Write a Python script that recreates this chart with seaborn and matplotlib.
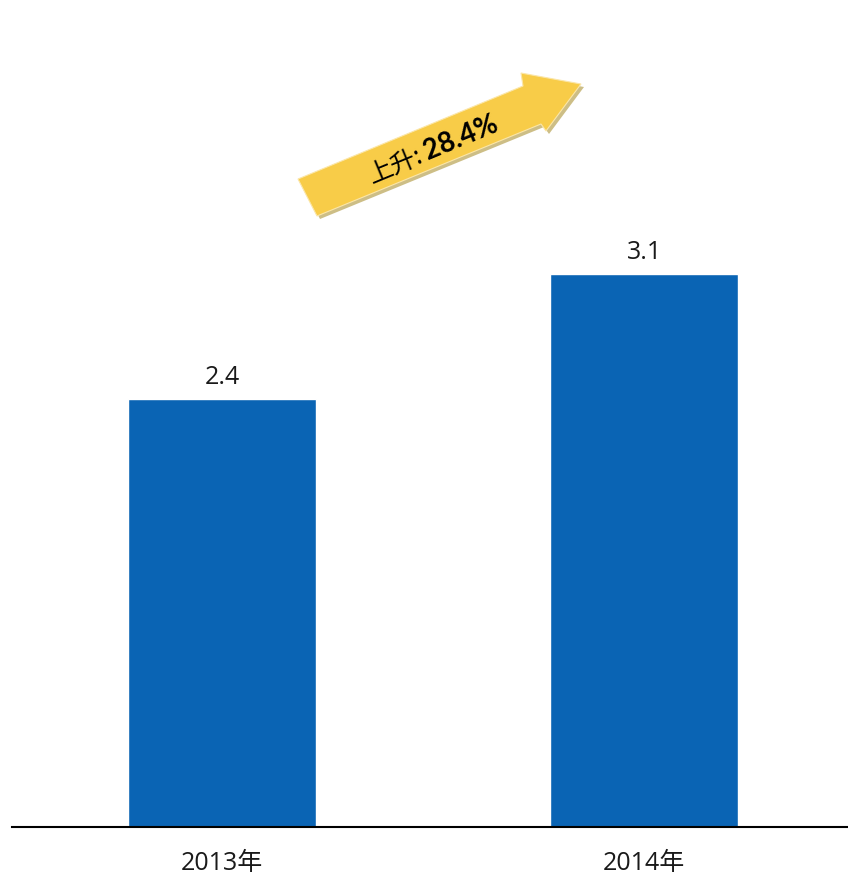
import matplotlib
matplotlib.use("Agg")
import matplotlib.pyplot as plt
from matplotlib.patches import Polygon
import seaborn as sns
import pandas as pd

# Data
years = ["2013年", "2014年"]
values = [2.4, 3.1]
growth_label = "28.4%"
growth_prefix = "上升:"

sns.set_style("white")
plt.rcParams["font.family"] = ["Open Sans", "Noto Sans CJK SC", "DejaVu Sans"]

W, H = 848, 875
fig = plt.figure(figsize=(W / 100, H / 100), dpi=100)
ax = fig.add_axes([12 / W, (H - 827) / H, (W - 12) / W, 827 / H])

df = pd.DataFrame({"year": years, "value": values})
sns.barplot(data=df, x="year", y="value", color="#0A64B4", saturation=1,
            width=0.445, ax=ax)

ax.set_xlim(-0.4976, 1.483)
ax.set_ylim(0, 4.64)
ax.set_xlabel("")
ax.set_ylabel("")
ax.set_yticks([])
for side in ("top", "right", "left"):
    ax.spines[side].set_visible(False)
ax.spines["bottom"].set_color("black")
ax.spines["bottom"].set_linewidth(1.5)
ax.tick_params(axis="x", length=0, pad=17, labelsize=18, labelcolor="#1a1a1a")

ax.bar_label(ax.containers[0], labels=[f"{v:.1f}" for v in values],
             padding=7, fontsize=18, color="#1a1a1a")


def px(x, y):
    return (x / W, 1 - y / H)


# Growth arrow (pixel geometry, converted to figure fraction)
arrow_pts = [(298, 179), (523, 86), (521, 73), (581, 84),
             (546, 131), (541, 124), (317, 216)]
shadow = Polygon([px(x + 3, y + 3) for x, y in arrow_pts], closed=True,
                 transform=fig.transFigure, facecolor="#CDBE86",
                 edgecolor="none", zorder=5)
body = Polygon([px(x, y) for x, y in arrow_pts], closed=True,
               transform=fig.transFigure, facecolor="#F8CC48",
               edgecolor="#FBE6A8", linewidth=0.8, zorder=6)
fig.add_artist(shadow)
fig.add_artist(body)

angle = 22.4
ax_x, ax_y = px(425, 161)
fig.text(ax_x, ax_y, growth_prefix, rotation=angle, rotation_mode="anchor",
         ha="right", va="baseline", fontsize=18, color="black",
         family=["Noto Sans CJK SC", "DejaVu Sans"], zorder=7)
fig.text(ax_x + 3 / W, ax_y + 1 / H, growth_label, rotation=angle,
         rotation_mode="anchor", ha="left", va="baseline", fontsize=20,
         fontweight="bold", color="black", family=["Lato", "DejaVu Sans"],
         zorder=7)

fig.savefig("out.png", dpi=100)
